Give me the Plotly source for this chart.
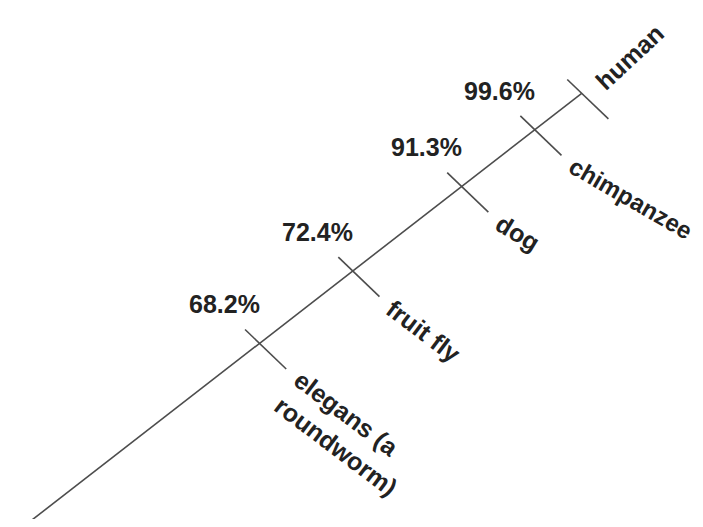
import math
import plotly.graph_objects as go

# ---------------- data ----------------
species = ["elegans (a<br>roundworm)", "fruit fly", "dog", "chimpanzee", "human"]
similarity = [68.2, 72.4, 91.3, 99.6, None]          # % DNA shared with humans
position = [0.423, 0.590, 0.785, 0.916, 1.0]         # place along the axis line (0 = start, 1 = human)

# ---------------- styling / geometry ----------------
W, H = 703, 527
PAGE_PAD = 8            # default body margin of the html page
P0 = (23.3, 526.7)      # start of axis line (screen units)
P1 = (581.7, 93.3)      # end of axis line
LINE_COLOR = "#4d4d4d"
TEXT_COLOR = "#222222"
FONT = "Liberation Sans, Arial, sans-serif"
FS = 25
tick_dir = (0.72, 0.69)
nrm = math.hypot(*tick_dir)
tick_dir = (tick_dir[0] / nrm, tick_dir[1] / nrm)
TICK_UP, TICK_DOWN = 20, 37
label_angle = {"elegans (a<br>roundworm)": 37, "fruit fly": 37, "dog": 31,
               "chimpanzee": 30, "human": -43}
PCT_OFFSET = (-35, -39)

# Arial-bold advance widths (per em) for width estimation
CW = {"a": .556, "b": .611, "c": .556, "d": .611, "e": .556, "f": .333, "g": .611,
      "h": .611, "i": .278, "l": .278, "m": .889, "n": .611, "o": .611, "p": .611,
      "r": .389, "s": .556, "t": .333, "u": .611, "w": .778, "y": .556, "z": .5,
      " ": .278, "(": .333, ")": .333}


def text_width(s):
    return max(sum(CW.get(c, .56) for c in line) for line in s.split("<br>")) * FS


def along(t):
    return (P0[0] + t * (P1[0] - P0[0]), P0[1] + t * (P1[1] - P0[1]))


fig = go.Figure()

# main axis line
lx, ly = zip(along(-0.03), along(1.0))
fig.add_trace(go.Scatter(x=list(lx), y=list(ly), mode="lines",
                         line=dict(color=LINE_COLOR, width=1.6), hoverinfo="skip"))

# tick marks
tx, ty = [], []
pts = [along(t) for t in position]
for (px, py) in pts:
    tx += [px - TICK_UP * tick_dir[0], px + TICK_DOWN * tick_dir[0], None]
    ty += [py - TICK_UP * tick_dir[1], py + TICK_DOWN * tick_dir[1], None]
fig.add_trace(go.Scatter(x=tx, y=ty, mode="lines",
                         line=dict(color=LINE_COLOR, width=1.6), hoverinfo="skip"))

annotations = []
for name, pct, (px, py) in zip(species, similarity, pts):
    ang = label_angle[name]
    d = (math.cos(math.radians(ang)), math.sin(math.radians(ang)))
    fs = 24 if name == "chimpanzee" else FS
    half = text_width(name) / 2 * fs / FS
    nlines = name.count("<br>") + 1
    if ang >= 0:
        sx = px + TICK_DOWN * tick_dir[0] + 10
        sy = py + TICK_DOWN * tick_dir[1] + 9
    else:
        sx, sy = px + 18, py - 8
    perp = (-d[1], d[0])
    shift = (nlines - 1) * FS * 1.15 / 2
    cx = sx + half * d[0] + shift * perp[0]
    cy = sy + half * d[1] + shift * perp[1]
    annotations.append(dict(x=cx, y=cy, xref="x", yref="y", text=name, showarrow=False,
                            textangle=ang, xanchor="center", yanchor="middle", align="left",
                            font=dict(family=FONT, size=fs, color=TEXT_COLOR, weight="bold")))
    if pct is not None:
        annotations.append(dict(x=px + PCT_OFFSET[0], y=py + PCT_OFFSET[1], xref="x", yref="y",
                                text=f"{pct:.1f}%", showarrow=False,
                                xanchor="center", yanchor="middle",
                                font=dict(family=FONT, size=FS, color=TEXT_COLOR, weight="bold")))

fig.update_layout(
    width=W - PAGE_PAD, height=H - 2 * PAGE_PAD, margin=dict(l=0, r=0, t=0, b=0),
    paper_bgcolor="white", plot_bgcolor="white", showlegend=False,
    xaxis=dict(range=[PAGE_PAD, W], visible=False, fixedrange=True),
    yaxis=dict(range=[H - PAGE_PAD, PAGE_PAD], visible=False, fixedrange=True),
    annotations=annotations,
)

fig.write_html("out.html")
